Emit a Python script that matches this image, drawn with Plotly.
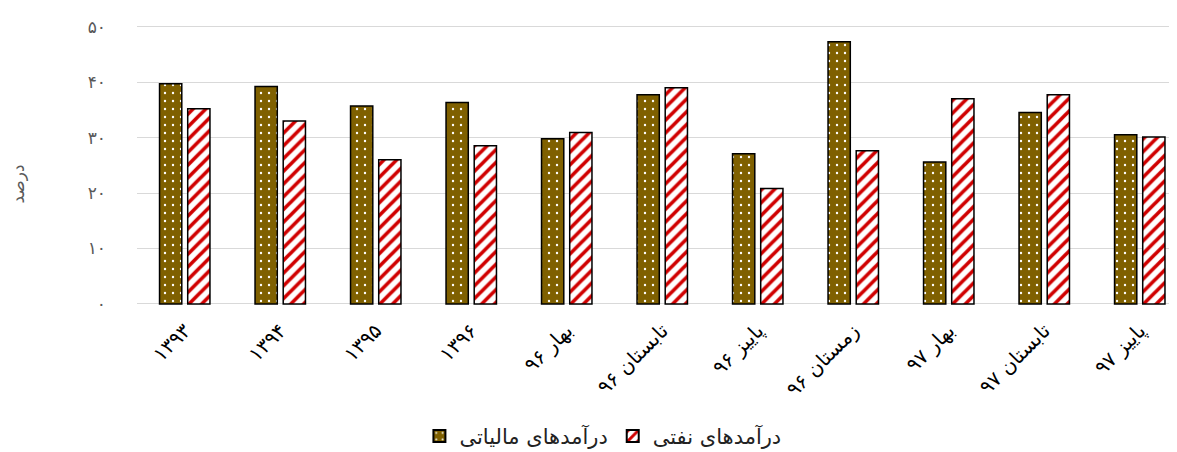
import plotly.graph_objects as go

categories = ["۱۳۹۳", "۱۳۹۴", "۱۳۹۵", "۱۳۹۶", "بهار ۹۶", "تابستان ۹۶",
              "پاییز ۹۶", "زمستان ۹۶", "بهار ۹۷", "تابستان ۹۷", "پاییز ۹۷"]
tax_revenue = [39.7, 39.2, 35.7, 36.3, 29.8, 37.7, 27.1, 47.3, 25.6, 34.5, 30.5]
oil_revenue = [35.2, 33.0, 26.0, 28.5, 30.9, 39.0, 20.8, 27.6, 37.0, 37.7, 30.1]
tax_name = "درآمدهای مالیاتی"
oil_name = "درآمدهای نفتی"
y_tickvals = [0, 10, 20, 30, 40, 50]
y_ticktext = ["۰", "۱۰", "۲۰", "۳۰", "۴۰", "۵۰"]
y_title = "درصد"

FONT = "DejaVu Sans"
x_idx = list(range(len(categories)))

fig = go.Figure()
fig.add_trace(go.Bar(
    x=x_idx, y=tax_revenue, name=tax_name,
    marker=dict(color="#7F6000",
                line=dict(color="black", width=1.5),
                pattern=dict(shape=".", fgcolor="white", bgcolor="#7F6000",
                             size=8, solidity=0.07, fillmode="replace")),
))
fig.add_trace(go.Bar(
    x=x_idx, y=oil_revenue, name=oil_name,
    marker=dict(color="white",
                line=dict(color="black", width=1.5),
                pattern=dict(shape="/", fgcolor="#D00000", bgcolor="white",
                             size=9, solidity=0.4, fillmode="replace")),
))

# page body adds an 8px offset; figure is sized to fit the window
fig.update_layout(
    width=1169, height=444,
    margin=dict(l=129, r=0, t=17, b=147, autoexpand=False),
    paper_bgcolor="white", plot_bgcolor="white",
    barmode="group", bargap=0.41, bargroupgap=0.21,
    font=dict(family=FONT, size=14, color="black"),
    showlegend=True,
    legend=dict(orientation="h", x=0.448, xanchor="center",
                yref="container", y=0.035, yanchor="middle",
                font=dict(family=FONT, size=21, color="#222222"),
                itemsizing="constant", traceorder="normal"),
    xaxis=dict(
        tickmode="array", tickvals=x_idx, ticktext=categories,
        tickangle=-45, range=[-0.5, 10.39], automargin=False,
        showgrid=False, zeroline=False, showline=False,
        ticks="outside", ticklen=5, tickcolor="rgba(0,0,0,0)",
        tickfont=dict(family=FONT, size=20, color="black"),
    ),
    yaxis=dict(
        range=[-0.2, 50.3], tickmode="array", tickvals=y_tickvals, ticktext=y_ticktext,
        showgrid=True, gridcolor="#D9D9D9", gridwidth=1.3, automargin=False,
        zeroline=False, showline=False,
        tickfont=dict(family=FONT, size=17, color="#595959"),
        ticklabelstandoff=30,
    ),
    annotations=[dict(
        text=y_title, xref="paper", yref="paper",
        x=(10 - 129) / 1040, y=0.43, xanchor="center", yanchor="middle",
        textangle=-90, showarrow=False,
        font=dict(family=FONT, size=17, color="#595959"),
    )],
)

fig.write_html("out.html")
